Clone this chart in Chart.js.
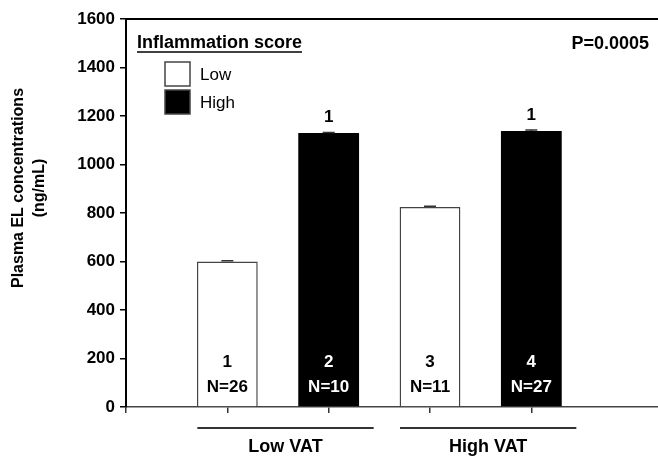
<!DOCTYPE html>
<html lang="en">
<head>
<meta charset="UTF-8">
<title>Plasma EL concentrations</title>
<script src="https://cdn.jsdelivr.net/npm/chart.js"></script>
<style>
  html, body { margin: 0; padding: 0; background: #fff; }
  #wrap { width: 658px; height: 458px; position: relative; }
</style>
</head>
<body>
<div id="wrap"><canvas id="grafico"></canvas></div>
<script>
    // data
    var groupLabels = ['Low VAT', 'High VAT'];
    var scoreLabels = ['Low', 'High'];
    var barPos = [1, 2, 3, 4];
    var means = [600, 1130, 825, 1138];
    var errs = [3, 2, 3, 4];
    var groupNo = ['1', '2', '3', '4'];
    var nCounts = [26, 10, 11, 27];
    var sigMarks = ['', '1', '', '1'];
    var yTicks = [0, 200, 400, 600, 800, 1000, 1200, 1400, 1600];
    var pValue = 'P=0.0005';

    var FONT = '"Liberation Sans", Arial, sans-serif';

    function pontos(idx) {
        return idx.map(function (i) { return { x: barPos[i], y: means[i] }; });
    }

    var dados = {
        datasets: [{
            label: scoreLabels[0],
            data: pontos([0, 2]),
            backgroundColor: '#ffffff',
            borderColor: '#444444',
            borderWidth: 1.5
        }, {
            label: scoreLabels[1],
            data: pontos([1, 3]),
            backgroundColor: '#000000',
            borderColor: '#000000',
            borderWidth: 0
        }]
    };

    var extras = {
        id: 'extras',
        afterDatasetsDraw: function (chart) {
            var ctx = chart.ctx;
            var y = chart.scales.y;
            var x = chart.scales.x;
            ctx.save();
            // error bars
            ctx.strokeStyle = '#333';
            ctx.lineWidth = 1.5;
            for (var i = 0; i < barPos.length; i++) {
                var px = x.getPixelForValue(barPos[i]);
                var top = y.getPixelForValue(means[i] + errs[i]);
                var base = y.getPixelForValue(means[i]);
                ctx.beginPath();
                ctx.moveTo(px, base);
                ctx.lineTo(px, top);
                ctx.moveTo(px - 6, top);
                ctx.lineTo(px + 6, top);
                ctx.stroke();
            }
            // labels inside and above bars
            ctx.textAlign = 'center';
            ctx.textBaseline = 'middle';
            ctx.font = 'bold 17px ' + FONT;
            for (var j = 0; j < barPos.length; j++) {
                var cx = x.getPixelForValue(barPos[j]);
                ctx.fillStyle = (j % 2 === 0) ? '#000' : '#fff';
                ctx.fillText(groupNo[j], cx, y.getPixelForValue(0) - 45);
                ctx.fillText('N=' + nCounts[j], cx, y.getPixelForValue(0) - 20);
                if (sigMarks[j]) {
                    ctx.fillStyle = '#000';
                    ctx.fillText(sigMarks[j], cx, y.getPixelForValue(means[j] + errs[j]) - 15);
                }
            }
            ctx.restore();
        },
        afterDraw: function (chart) {
            var ctx = chart.ctx;
            var area = chart.chartArea;
            var x = chart.scales.x;
            ctx.save();
            // top frame line
            ctx.strokeStyle = '#000';
            ctx.lineWidth = 2;
            ctx.beginPath();
            ctx.moveTo(area.left, area.top);
            ctx.lineTo(area.right, area.top);
            ctx.stroke();

            // y axis title
            ctx.fillStyle = '#000';
            ctx.font = 'bold 16px ' + FONT;
            ctx.textAlign = 'center';
            ctx.textBaseline = 'middle';
            ctx.translate(19, 188);
            ctx.rotate(-Math.PI / 2);
            ctx.fillText('Plasma EL concentrations', 0, 0);
            ctx.fillText('(ng/mL)', 0, 21);
            ctx.setTransform(1, 0, 0, 1, 0, 0);

            // group lines and labels
            ctx.strokeStyle = '#333';
            ctx.lineWidth = 2;
            ctx.font = 'bold 18px ' + FONT;
            for (var g = 0; g < groupLabels.length; g++) {
                var x0 = x.getPixelForValue(barPos[g * 2]) - 30;
                var x1 = x.getPixelForValue(barPos[g * 2 + 1]) + 45;
                ctx.beginPath();
                ctx.moveTo(x0, 428);
                ctx.lineTo(x1, 428);
                ctx.stroke();
                ctx.fillText(groupLabels[g], (x0 + x1) / 2, 447);
            }

            // legend
            ctx.textAlign = 'left';
            ctx.font = 'bold 18px ' + FONT;
            var titulo = 'Inflammation score';
            ctx.fillText(titulo, 137, 43);
            var w = ctx.measureText(titulo).width;
            ctx.lineWidth = 1.5;
            ctx.strokeStyle = '#000';
            ctx.beginPath();
            ctx.moveTo(137, 52);
            ctx.lineTo(137 + w, 52);
            ctx.stroke();

            var cores = chart.data.datasets;
            for (var k = 0; k < cores.length; k++) {
                var by = 62 + k * 28;
                ctx.fillStyle = cores[k].backgroundColor;
                ctx.fillRect(165, by, 25, 24);
                ctx.strokeStyle = '#444';
                ctx.lineWidth = 1.5;
                ctx.strokeRect(165, by, 25, 24);
                ctx.fillStyle = '#000';
                ctx.font = '17px ' + FONT;
                ctx.fillText(cores[k].label, 200, by + 13);
            }

            // p value
            ctx.textAlign = 'right';
            ctx.font = 'bold 18px ' + FONT;
            ctx.fillText(pValue, 649, 44);
            ctx.restore();
        }
    };

    var config = {
        type: 'bar',
        data: dados,
        options: {
            responsive: true,
            maintainAspectRatio: false,
            animation: false,
            layout: { padding: { top: 19, left: 0, right: 0, bottom: 0 } },
            datasets: {
                bar: { grouped: false, barPercentage: 0.6, categoryPercentage: 1 }
            },
            plugins: {
                legend: { display: false },
                tooltip: { enabled: false }
            },
            scales: {
                x: {
                    type: 'linear',
                    offset: false,
                    min: 0,
                    max: 5.25,
                    afterBuildTicks: function (axis) {
                        axis.ticks = [0].concat(barPos).map(function (v) { return { value: v }; });
                    },
                    afterFit: function (axis) { axis.height = 51; },
                    ticks: { callback: function () { return ''; } },
                    grid: { offset: false, drawOnChartArea: false, drawTicks: true, tickLength: 6, color: '#333', lineWidth: 1.5 },
                    border: { display: true, color: '#444', width: 1.5 }
                },
                y: {
                    min: 0,
                    max: 1600,
                    afterBuildTicks: function (axis) {
                        axis.ticks = yTicks.map(function (v) { return { value: v }; });
                    },
                    afterFit: function (axis) { axis.width = 126; },
                    ticks: {
                        color: '#000',
                        padding: 5,
                        font: { family: FONT, size: 17, weight: 'bold' },
                        callback: function (v) { return String(v); }
                    },
                    grid: { drawOnChartArea: false, drawTicks: true, tickLength: 6, color: '#000', lineWidth: 1.5 },
                    border: { display: true, color: '#000', width: 2 }
                }
            }
        },
        plugins: [extras]
    };

    var grafico = new Chart(document.getElementById('grafico'), config);
</script>
</body>
</html>
